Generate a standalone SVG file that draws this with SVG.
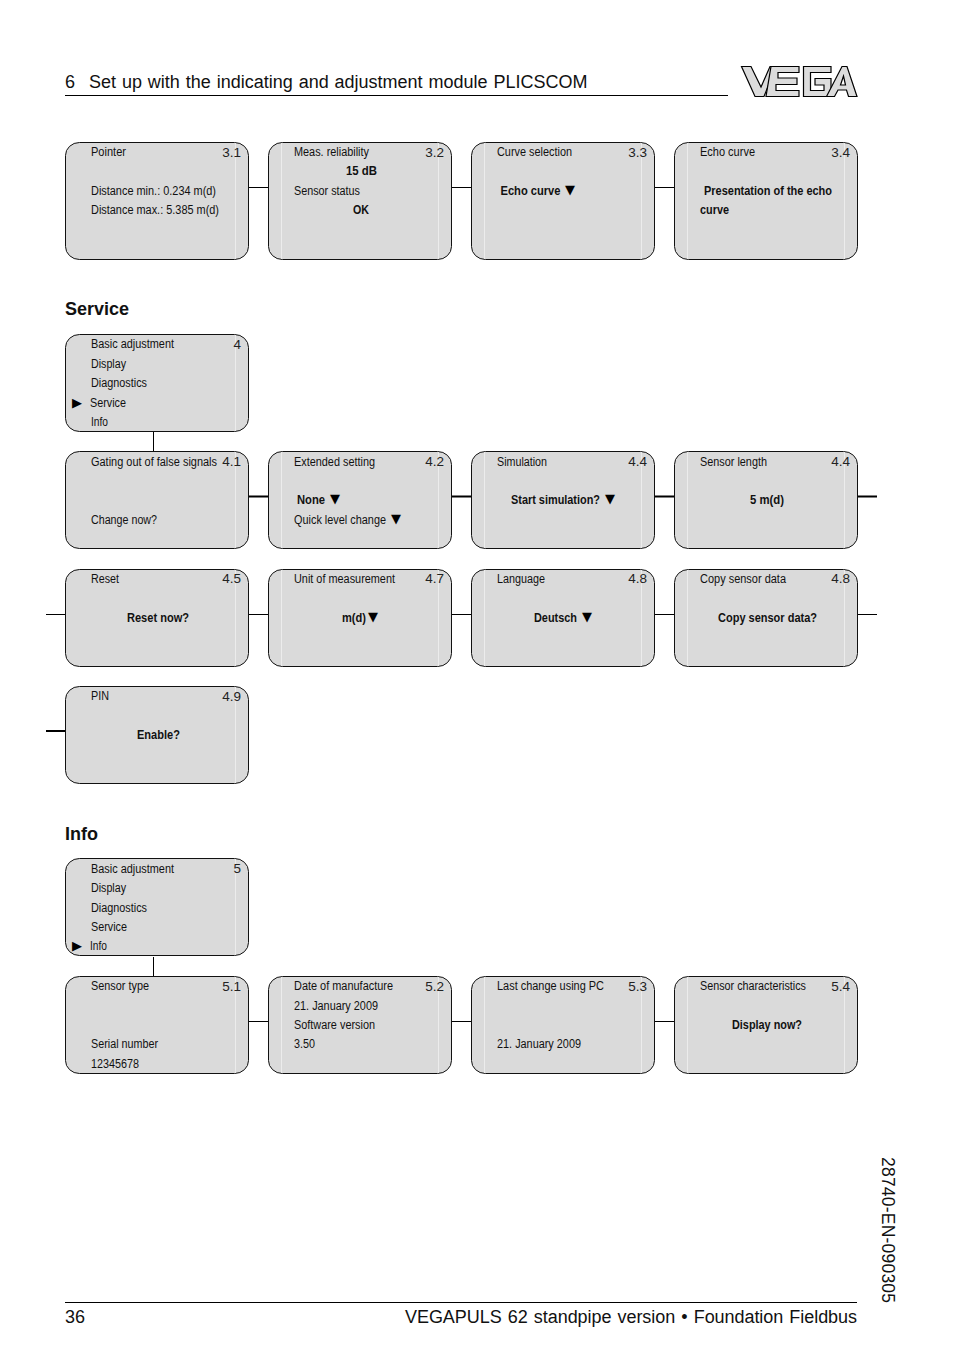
<svg xmlns="http://www.w3.org/2000/svg" width="954" height="1354" viewBox="0 0 954 1354">
<style>
text{font-family:"Liberation Sans",Arial,sans-serif;fill:#111}
.t{font-size:12px}
.b{font-size:12px;font-weight:bold}
.n{font-size:13.500px;text-anchor:end;fill:#222}
.h{font-size:18px}
.s{font-size:18px;font-weight:bold}
.g{font-family:"DejaVu Sans",sans-serif;font-size:13px;fill:#000}
.p{font-family:"DejaVu Sans",sans-serif;font-size:13px;fill:#000}
.box{fill:#dadada;stroke:#111;stroke-width:1}
.lt{stroke:#ececec;stroke-width:1;fill:none}
.c{stroke:#000;stroke-width:1;fill:none}
.k{stroke:#000;stroke-width:2;fill:none}
</style>
<defs>
<g id="b98"><rect class="box" x="0.5" y="0.5" width="183" height="97" rx="14" ry="13"/><path class="lt" d="M170.500 1V97"/></g>
<g id="b117"><rect class="box" x="0.5" y="0.5" width="183" height="117" rx="14" ry="13"/><path class="lt" d="M170.500 1V117"/></g>
<g id="c98"><use href="#b98"/><path class="lt" d="M13.500 1V97"/></g>
<g id="c117"><use href="#b117"/><path class="lt" d="M13.500 1V117"/></g>
</defs>
<rect width="954" height="1354" fill="#fff"/>
<g id="header">
<text class="h" y="88" word-spacing="0.9"><tspan x="65">6</tspan> <tspan x="89">Set up with the indicating and adjustment module PLICSCOM</tspan></text>
<path d="M65 95.500H728" stroke="#000" stroke-width="1"/>
</g>
<g id="logo" fill="#dcdcdc" stroke="#000" stroke-width="1.200">
<path d="M741.500 66.500H751L761 87L770 66.500H776L764 96.500H755Z"/>
<path d="M771 66.500H799V72.500H778V78H797V84.500H776V90.500H799V96.500H766Z"/>
<path d="M803.500 66.500H831V72.500H810.500V90.500H824V85H815V78.500H831V96.500H803.500Z"/>
<path d="M826.500 96.500L842 66.500H847L857 96.500H848.500L846.500 90H838L834.500 96.500ZM840.500 85H845.500L843.500 76Z"/>
</g>
<g id="connectors">
<path class="c" d="M248 187.500H268M451 187.500H471M654 187.500H674"/>
<path class="c" d="M153.500 432V451"/>
<path class="k" d="M248 496.500H268M451 496.500H471M654 496.500H674M857 496.500H877"/>
<path class="c" d="M46 614.500H65M248 614.500H268M451 614.500H471M654 614.500H674M857 614.500H877"/>
<path class="k" d="M46 731H65"/>
<path class="c" d="M153.500 957V976"/>
<path class="c" d="M248 1021.500H268M451 1021.500H471M654 1021.500H674"/>
</g>
<g id="n3-1"><use href="#b117" x="65" y="142"/>
<text class="t" x="91" y="156" textLength="35" lengthAdjust="spacingAndGlyphs">Pointer</text>
<text class="n" x="241" y="157">3.1</text>
<text class="t" x="91" y="195" textLength="125" lengthAdjust="spacingAndGlyphs">Distance min.: 0.234 m(d)</text>
<text class="t" x="91" y="214" textLength="128" lengthAdjust="spacingAndGlyphs">Distance max.: 5.385 m(d)</text></g>
<g id="n3-2"><use href="#c117" x="268" y="142"/>
<text class="t" x="294" y="156" textLength="75" lengthAdjust="spacingAndGlyphs">Meas. reliability</text>
<text class="n" x="444" y="157">3.2</text>
<text class="b" x="346" y="175" textLength="31" lengthAdjust="spacingAndGlyphs">15 dB</text>
<text class="t" x="294" y="195" textLength="66" lengthAdjust="spacingAndGlyphs">Sensor status</text>
<text class="b" x="353" y="214" textLength="16" lengthAdjust="spacingAndGlyphs">OK</text></g>
<g id="n3-3"><use href="#c117" x="471" y="142"/>
<text class="t" x="497" y="156" textLength="75" lengthAdjust="spacingAndGlyphs">Curve selection</text>
<text class="n" x="647" y="157">3.3</text>
<text class="b" x="500.500" y="195" textLength="60" lengthAdjust="spacingAndGlyphs">Echo curve</text>
<text class="g" x="565" y="194">▼</text></g>
<g id="n3-4"><use href="#c117" x="674" y="142"/>
<text class="t" x="700" y="156" textLength="55" lengthAdjust="spacingAndGlyphs">Echo curve</text>
<text class="n" x="850" y="157">3.4</text>
<text class="b" x="704" y="195" textLength="128" lengthAdjust="spacingAndGlyphs">Presentation of the echo</text>
<text class="b" x="700" y="214" textLength="29" lengthAdjust="spacingAndGlyphs">curve</text></g>
<text class="s" x="65" y="315">Service</text>
<g id="n4"><use href="#b98" x="65" y="334"/>
<text class="t" x="91" y="348" textLength="83" lengthAdjust="spacingAndGlyphs">Basic adjustment</text>
<text class="n" x="241" y="349">4</text>
<text class="t" x="91" y="368" textLength="35" lengthAdjust="spacingAndGlyphs">Display</text>
<text class="t" x="91" y="387" textLength="56" lengthAdjust="spacingAndGlyphs">Diagnostics</text>
<text class="p" x="72" y="407">▶</text>
<text class="t" x="90" y="407" textLength="36" lengthAdjust="spacingAndGlyphs">Service</text>
<text class="t" x="91" y="426" textLength="17" lengthAdjust="spacingAndGlyphs">Info</text></g>
<g id="n4-1"><use href="#b98" x="65" y="451"/>
<text class="t" x="91" y="466" textLength="126" lengthAdjust="spacingAndGlyphs">Gating out of false signals</text>
<text class="n" x="241" y="466">4.1</text>
<text class="t" x="91" y="524" textLength="66" lengthAdjust="spacingAndGlyphs">Change now?</text></g>
<g id="n4-2"><use href="#c98" x="268" y="451"/>
<text class="t" x="294" y="466" textLength="81" lengthAdjust="spacingAndGlyphs">Extended setting</text>
<text class="n" x="444" y="466">4.2</text>
<text class="b" x="297" y="504" textLength="28" lengthAdjust="spacingAndGlyphs">None</text>
<text class="g" x="330" y="503">▼</text>
<text class="t" x="294" y="524" textLength="92" lengthAdjust="spacingAndGlyphs">Quick level change</text>
<text class="g" x="391" y="523">▼</text></g>
<g id="n4-3"><use href="#c98" x="471" y="451"/>
<text class="t" x="497" y="466" textLength="50" lengthAdjust="spacingAndGlyphs">Simulation</text>
<text class="n" x="647" y="466">4.4</text>
<text class="b" x="511" y="504" textLength="89" lengthAdjust="spacingAndGlyphs">Start simulation?</text>
<text class="g" x="605" y="503">▼</text></g>
<g id="n4-4"><use href="#c98" x="674" y="451"/>
<text class="t" x="700" y="466" textLength="67" lengthAdjust="spacingAndGlyphs">Sensor length</text>
<text class="n" x="850" y="466">4.4</text>
<text class="b" x="750" y="504" textLength="34" lengthAdjust="spacingAndGlyphs">5 m(d)</text></g>
<g id="n4-5"><use href="#b98" x="65" y="569"/>
<text class="t" x="91" y="583" textLength="28" lengthAdjust="spacingAndGlyphs">Reset</text>
<text class="n" x="241" y="583">4.5</text>
<text class="b" x="127" y="622" textLength="62" lengthAdjust="spacingAndGlyphs">Reset now?</text></g>
<g id="n4-7"><use href="#c98" x="268" y="569"/>
<text class="t" x="294" y="583" textLength="101" lengthAdjust="spacingAndGlyphs">Unit of measurement</text>
<text class="n" x="444" y="583">4.7</text>
<text class="b" x="342" y="622" textLength="24" lengthAdjust="spacingAndGlyphs">m(d)</text>
<text class="g" x="368" y="621">▼</text></g>
<g id="n4-8a"><use href="#c98" x="471" y="569"/>
<text class="t" x="497" y="583" textLength="48" lengthAdjust="spacingAndGlyphs">Language</text>
<text class="n" x="647" y="583">4.8</text>
<text class="b" x="534" y="622" textLength="43" lengthAdjust="spacingAndGlyphs">Deutsch</text>
<text class="g" x="582" y="621">▼</text></g>
<g id="n4-8b"><use href="#c98" x="674" y="569"/>
<text class="t" x="700" y="583" textLength="86" lengthAdjust="spacingAndGlyphs">Copy sensor data</text>
<text class="n" x="850" y="583">4.8</text>
<text class="b" x="718" y="622" textLength="99" lengthAdjust="spacingAndGlyphs">Copy sensor data?</text></g>
<g id="n4-9"><use href="#b98" x="65" y="686"/>
<text class="t" x="91" y="700" textLength="18" lengthAdjust="spacingAndGlyphs">PIN</text>
<text class="n" x="241" y="701">4.9</text>
<text class="b" x="137" y="739" textLength="43" lengthAdjust="spacingAndGlyphs">Enable?</text></g>
<text class="s" x="65" y="840">Info</text>
<g id="n5"><use href="#b98" x="65" y="858"/>
<text class="t" x="91" y="873" textLength="83" lengthAdjust="spacingAndGlyphs">Basic adjustment</text>
<text class="n" x="241" y="873">5</text>
<text class="t" x="91" y="892" textLength="35" lengthAdjust="spacingAndGlyphs">Display</text>
<text class="t" x="91" y="912" textLength="56" lengthAdjust="spacingAndGlyphs">Diagnostics</text>
<text class="t" x="91" y="931" textLength="36" lengthAdjust="spacingAndGlyphs">Service</text>
<text class="p" x="72" y="950">▶</text>
<text class="t" x="90" y="950" textLength="17" lengthAdjust="spacingAndGlyphs">Info</text></g>
<g id="n5-1"><use href="#b98" x="65" y="976"/>
<text class="t" x="91" y="990" textLength="58" lengthAdjust="spacingAndGlyphs">Sensor type</text>
<text class="n" x="241" y="991">5.1</text>
<text class="t" x="91" y="1048" textLength="67" lengthAdjust="spacingAndGlyphs">Serial number</text>
<text class="t" x="91" y="1068" textLength="48" lengthAdjust="spacingAndGlyphs">12345678</text></g>
<g id="n5-2"><use href="#c98" x="268" y="976"/>
<text class="t" x="294" y="990" textLength="99" lengthAdjust="spacingAndGlyphs">Date of manufacture</text>
<text class="n" x="444" y="991">5.2</text>
<text class="t" x="294" y="1010" textLength="84" lengthAdjust="spacingAndGlyphs">21. January 2009</text>
<text class="t" x="294" y="1029" textLength="81" lengthAdjust="spacingAndGlyphs">Software version</text>
<text class="t" x="294" y="1048" textLength="21" lengthAdjust="spacingAndGlyphs">3.50</text></g>
<g id="n5-3"><use href="#c98" x="471" y="976"/>
<text class="t" x="497" y="990" textLength="107" lengthAdjust="spacingAndGlyphs">Last change using PC</text>
<text class="n" x="647" y="991">5.3</text>
<text class="t" x="497" y="1048" textLength="84" lengthAdjust="spacingAndGlyphs">21. January 2009</text></g>
<g id="n5-4"><use href="#c98" x="674" y="976"/>
<text class="t" x="700" y="990" textLength="106" lengthAdjust="spacingAndGlyphs">Sensor characteristics</text>
<text class="n" x="850" y="991">5.4</text>
<text class="b" x="732" y="1029" textLength="70" lengthAdjust="spacingAndGlyphs">Display now?</text></g>
<g id="footer">
<text transform="translate(882 1157) rotate(90)" font-size="17.500" textLength="146" lengthAdjust="spacing">28740-EN-090305</text>
<path d="M65 1302.500H857" stroke="#000" stroke-width="1"/>
<text class="h" x="65" y="1323">36</text>
<text class="h" x="405" y="1323" word-spacing="1.200" textLength="452" lengthAdjust="spacing">VEGAPULS 62 standpipe version • Foundation Fieldbus</text>
</g>
</svg>
